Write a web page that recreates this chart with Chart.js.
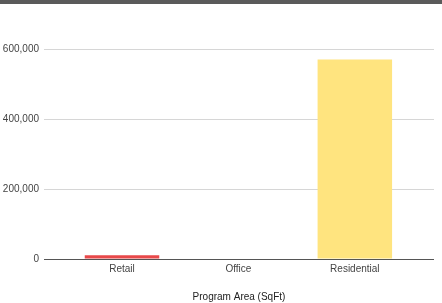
<!DOCTYPE html>
<html>
<head>
<meta charset="utf-8">
<script src="https://cdn.jsdelivr.net/npm/chart.js@4"></script>
<style>
  body { margin: 0; background: #fff; }
  #wrap { position: relative; width: 442px; height: 303px; }
  #band { position: absolute; left: 0; top: 0; width: 442px; height: 4px; background: #5a5a5a; }
</style>
</head>
<body>
<div id="wrap">
  <canvas id="chart" width="442" height="303"></canvas>
  <div id="band"></div>
</div>
<script>
const categories = ["Retail", "Office", "Residential"];
const areaValues = [11000, 0, 570000];
const barColors = ["#e8494a", "#4a86e8", "#ffe47f"];
const yTicks = [0, 200000, 400000, 600000];

const font = { family: "Liberation Sans", size: 10 };

new Chart(document.getElementById("chart"), {
  type: "bar",
  data: {
    labels: categories,
    datasets: [
      {
        label: "Program Area (SqFt)",
        data: areaValues,
        backgroundColor: barColors,
        borderWidth: 0,
        barPercentage: 0.64,
        categoryPercentage: 1,
      },
    ],
  },
  options: {
    responsive: false,
    animation: false,
    layout: { padding: { top: 49, right: 8, bottom: 0, left: 0 } },
    plugins: {
      legend: { display: false },
      tooltip: { enabled: false },
    },
    scales: {
      x: {
        grid: { display: false, drawTicks: false },
        border: { display: false },
        ticks: { color: "#444", font: font, padding: 4 },
        title: {
          display: true,
          text: "Program Area (SqFt)",
          color: "#222",
          font: font,
          padding: { top: 8, bottom: 0 },
        },
        // leave extra room at both ends, like the original
        afterBuildTicks: (s) => {
          s._startValue = -0.67;
          s._valueRange = 3.35;
        },
        afterFit: (s) => { s.height = 44; },
      },
      y: {
        min: 0,
        max: 600000,
        afterBuildTicks: (s) => { s.ticks = yTicks.map((v) => ({ value: v })); },
        grid: {
          drawTicks: false,
          color: (c) => (c.tick && c.tick.value === 0 ? "#555" : "#d6d6d6"),
          lineWidth: 1,
        },
        border: { display: false },
        ticks: {
          color: "#444",
          font: font,
          padding: 5,
          callback: (v) => v.toLocaleString("en-US"),
        },
        afterFit: (s) => { s.width = 44; },
      },
    },
  },
});
</script>
</body>
</html>
